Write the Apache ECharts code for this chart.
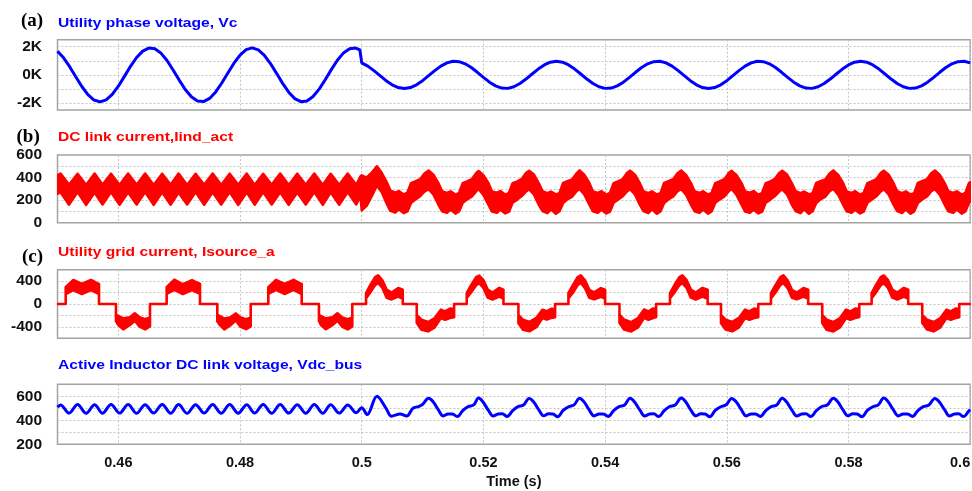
<!DOCTYPE html>
<html>
<head>
<meta charset="utf-8">
<script src="https://cdn.jsdelivr.net/npm/echarts@6/dist/echarts.min.js"></script>
<style>
  html, body { margin: 0; padding: 0; background: #fff; }
  #chart { width: 972px; height: 491px; }
</style>
</head>
<body>
<div id="chart"></div>
<script>
// ---- axis ticks ----
const timeTicks = [0.46, 0.48, 0.5, 0.52, 0.54, 0.56, 0.58, 0.6];
const vcGridValues = [-2000, -1000, 0, 1000, 2000];
const vcLabelValues = [-2000, 0, 2000];
const iindGridValues = [100, 200, 300, 400, 500];
const iindLabelValues = [0, 200, 400, 600];
const isrcGridValues = [-400, -200, 0, 200, 400];
const isrcLabelValues = [-400, 0, 400];
const vdcGridValues = [300, 400, 500, 600];
const vdcLabelValues = [200, 400, 600];

// ---- (a) utility phase voltage Vc, sampled every 1 ms ----
const vcStartBefore = 0.45;
const vcBefore = [1676, 1213, 581, -134, -830, -1409, -1790, -1920, -1780, -1390,
  -805, -107, 606, 1234, 1689, 1907, 1856, 1545, 1017, 347,
  -373, -1040, -1561, -1863, -1903, -1676, -1213, -581, 134, 830,
  1409, 1790, 1920, 1780, 1390, 805, 107, -606, -1234, -1689,
  -1907, -1856, -1545, -1017, -347, 373, 1040, 1561, 1863, 1903];
const vcStep = [[0.4997, 1771], [0.5, 1690]];
const vcStartAfter = 0.5;
const vcAfter = [850, 618, 300, -61, -413, -707, -902, -970, -902, -707,
  -413, -61, 300, 618, 850, 962, 940, 785, 520, 182,
  -182, -520, -785, -940, -962, -850, -618, -300, 61, 413,
  707, 902, 970, 902, 707, 413, 61, -300, -618, -850,
  -962, -940, -785, -520, -182, 182, 520, 785, 940, 962,
  850, 618, 300, -61, -413, -707, -902, -970, -902, -707,
  -413, -61, 300, 618, 850, 962, 940, 785, 520, 182,
  -182, -520, -785, -940, -962, -850, -618, -300, 61, 413,
  707, 902, 970, 902, 707, 413, 61, -300, -618, -850,
  -962, -940, -785, -520, -182, 182, 520, 785, 940, 962, 850];

// ---- (b) DC link current band: [time, lower edge, upper edge] ----
const iindBand = [
  [0.4500,255,420],
  [0.4505,270,435],[0.4519,160,335],[0.4533,272,433],[0.4547,158,333],
  [0.4561,268,436],[0.4574,162,336],[0.4588,271,434],[0.4602,159,334],
  [0.4616,269,435],[0.4630,161,335],[0.4644,272,436],[0.4658,158,333],
  [0.4672,270,434],[0.4686,160,336],[0.4699,268,435],[0.4713,162,334],
  [0.4727,271,433],[0.4741,159,335],[0.4755,270,436],[0.4769,161,333],
  [0.4783,272,434],[0.4797,158,336],[0.4811,269,435],[0.4824,160,334],
  [0.4838,271,433],[0.4852,162,335],[0.4866,270,436],[0.4880,159,333],
  [0.4894,268,434],[0.4908,161,336],[0.4922,272,435],[0.4936,158,334],
  [0.4949,270,433],[0.4963,160,335],[0.4977,271,436],[0.4991,162,333],
  [0.4998,240,410],[0.5000,110,420],[0.5008,150,400],[0.5016,230,440],
  [0.5025,330,500],[0.5033,270,440],[0.5041,170,360],[0.5047,105,285],[0.5055,90,265],[0.5061,120,280],
  [0.5069,85,250],[0.5075,100,265],[0.5081,175,350],[0.5088,205,365],[0.5096,235,385],[0.5103,275,435],
  [0.5110,298,462],[0.5118,249,424],[0.5126,161,351],[0.5132,102,278],[0.5140,87,263],[0.5146,117,278],
  [0.5154,81,249],[0.5160,100,263],[0.5166,176,351],[0.5173,205,366],[0.5181,234,386],[0.5188,278,439],
  [0.5192,300,458],[0.5200,247,420],[0.5208,163,353],[0.5214,100,276],[0.5222,89,265],[0.5228,115,280],
  [0.5236,83,247],[0.5242,98,265],[0.5248,178,349],[0.5255,203,364],[0.5263,236,388],[0.5270,276,441],
  [0.5275,296,460],[0.5283,251,426],[0.5291,159,349],[0.5297,104,280],[0.5305,85,261],[0.5311,119,276],
  [0.5319,79,251],[0.5325,102,261],[0.5331,174,353],[0.5338,207,368],[0.5346,232,384],[0.5353,280,437],
  [0.5358,299,463],[0.5366,248,423],[0.5374,162,352],[0.5380,101,277],[0.5388,88,264],[0.5394,116,279],
  [0.5402,82,248],[0.5408,99,264],[0.5414,177,350],[0.5421,204,365],[0.5429,235,387],[0.5436,277,440],
  [0.5441,297,461],[0.5449,250,425],[0.5457,160,350],[0.5463,103,279],[0.5471,86,262],[0.5477,118,277],
  [0.5485,80,250],[0.5491,101,262],[0.5497,175,352],[0.5504,206,367],[0.5512,233,385],[0.5519,279,438],
  [0.5525,298,462],[0.5533,249,424],[0.5541,161,351],[0.5547,102,278],[0.5555,87,263],[0.5561,117,278],
  [0.5569,81,249],[0.5575,100,263],[0.5581,176,351],[0.5588,205,366],[0.5596,234,386],[0.5603,278,439],
  [0.5608,300,459],[0.5616,247,421],[0.5624,163,353],[0.5630,100,276],[0.5638,89,265],[0.5644,115,280],
  [0.5652,83,247],[0.5658,98,265],[0.5664,178,349],[0.5671,203,364],[0.5679,236,388],[0.5686,276,441],
  [0.5691,296,460],[0.5699,251,426],[0.5707,159,349],[0.5713,104,280],[0.5721,85,261],[0.5727,119,276],
  [0.5735,79,251],[0.5741,102,261],[0.5747,174,353],[0.5754,207,368],[0.5762,232,384],[0.5769,280,437],
  [0.5775,299,463],[0.5783,248,423],[0.5791,162,352],[0.5797,101,277],[0.5805,88,264],[0.5811,116,279],
  [0.5819,82,248],[0.5825,99,264],[0.5831,177,350],[0.5838,204,365],[0.5846,235,387],[0.5853,277,440],
  [0.5858,297,461],[0.5866,250,425],[0.5874,160,350],[0.5880,103,279],[0.5888,86,262],[0.5894,118,277],
  [0.5902,80,250],[0.5908,101,262],[0.5914,175,352],[0.5921,206,367],[0.5929,233,385],[0.5936,279,438],
  [0.5942,298,462],[0.5950,249,424],[0.5958,161,351],[0.5964,102,278],[0.5972,87,263],[0.5978,117,278],
  [0.5986,81,249],[0.5992,100,263],[0.5998,176,351],[0.6000,190,358]
];

// ---- (c) utility grid current band: [time, lower edge, upper edge] ----
const isrcBand = [
  [0.4500,0,0],
  [0.45135,0,0],[0.45135,175,292],[0.4526,245,420],[0.4540,175,350],[0.4555,245,420],[0.4566,186,361],[0.45682,186,350],[0.45682,0,0],
  [0.45961,0,0],[0.45961,-300,-190],[0.4600,-367,-210],[0.4608,-443,-251],[0.4619,-367,-233],[0.4627,-292,-163],[0.4635,-397,-233],[0.4644,-443,-268],[0.4651,-397,-240],[0.4652,-390,-235],[0.4652,0,0],
  [0.46794,0,0],[0.46794,178,295],[0.4692,248,425],[0.4706,172,345],[0.4721,243,418],[0.4732,188,362],[0.47342,184,352],[0.47342,0,0],
  [0.47626,0,0],[0.47626,-302,-192],[0.4767,-370,-212],[0.4774,-445,-255],[0.4785,-365,-230],[0.4793,-290,-165],[0.4801,-400,-235],[0.4810,-440,-265],[0.4817,-395,-238],[0.48175,-388,-233],[0.48175,0,0],
  [0.48465,0,0],[0.48465,176,293],[0.4859,246,422],[0.4873,176,352],[0.4888,247,423],[0.4899,185,360],[0.49013,185,350],[0.49013,0,0],
  [0.49297,0,0],[0.49297,-298,-188],[0.4933,-368,-211],[0.4941,-442,-252],[0.4952,-368,-232],[0.4960,-293,-162],[0.4968,-398,-234],[0.4977,-444,-267],[0.4984,-396,-239],[0.49845,-390,-236],[0.49845,0,0],
  [0.50071,0,0],[0.50071,100,190],[0.5014,200,330],[0.5022,330,470],[0.5027,367,500],[0.5034,280,415],[0.5041,110,250],[0.5049,80,200],[0.5060,130,280],[0.50674,90,250],[0.50674,0,0],
  [0.50904,0,0],[0.50904,-330,-190],[0.5098,-449,-274],[0.5109,-478,-315],[0.5120,-408,-245],[0.5130,-245,-99],[0.5137,-275,-130],[0.5145,-245,-80],[0.51518,-230,-90],[0.51518,0,0],
  [0.51726,0,0],[0.51726,105,195],[0.5180,205,335],[0.5188,328,468],[0.5193,365,498],[0.5200,282,418],[0.5207,112,252],[0.5215,78,198],[0.5226,132,282],[0.52329,92,252],[0.52329,0,0],
  [0.52575,0,0],[0.52575,-332,-192],[0.5265,-450,-276],[0.5276,-476,-313],[0.5287,-405,-243],[0.5297,-247,-100],[0.5304,-273,-128],[0.5312,-243,-82],[0.53178,-232,-92],[0.53178,0,0],
  [0.53397,0,0],[0.53397,98,188],[0.5347,198,328],[0.5355,332,472],[0.5360,368,502],[0.5367,278,413],[0.5374,108,248],[0.5382,82,202],[0.5393,128,278],[0.5400,88,248],[0.5400,0,0],
  [0.54236,0,0],[0.54236,-328,-188],[0.5431,-447,-272],[0.5443,-480,-317],[0.5454,-410,-247],[0.5464,-243,-97],[0.5471,-277,-132],[0.5479,-247,-78],[0.54838,-228,-88],[0.54838,0,0],
  [0.55066,0,0],[0.55066,102,192],[0.5514,202,332],[0.5522,330,470],[0.5527,366,500],[0.5534,281,416],[0.5541,111,251],[0.5549,79,199],[0.5560,131,281],[0.55685,91,251],[0.55685,0,0],
  [0.55904,0,0],[0.55904,-331,-191],[0.5598,-448,-273],[0.5609,-477,-314],[0.5620,-407,-244],[0.5630,-246,-98],[0.5637,-274,-129],[0.5645,-244,-81],[0.56517,-231,-91],[0.56517,0,0],
  [0.56725,0,0],[0.56725,99,189],[0.5680,201,331],[0.5688,331,471],[0.5693,368,501],[0.5700,279,414],[0.5707,109,249],[0.5715,81,201],[0.5726,129,279],[0.57338,89,249],[0.57338,0,0],
  [0.57568,0,0],[0.57568,-329,-189],[0.5764,-450,-275],[0.5775,-479,-316],[0.5786,-409,-246],[0.5796,-244,-98],[0.5803,-276,-131],[0.5811,-246,-79],[0.58177,-229,-89],[0.58177,0,0],
  [0.5838,0,0],[0.5838,101,191],[0.5845,199,329],[0.5853,329,469],[0.5858,366,499],[0.5865,281,416],[0.5872,111,251],[0.5880,79,199],[0.5891,131,281],[0.58982,91,251],[0.58982,0,0],
  [0.59212,0,0],[0.59212,-330,-190],[0.5929,-448,-274],[0.5940,-478,-315],[0.5951,-408,-245],[0.5961,-245,-99],[0.5968,-275,-130],[0.5976,-245,-80],[0.5982,-230,-90],[0.5982,0,0],
  [0.6000,0,0]
];

// ---- (d) active inductor DC link voltage: [time, value] ----
const vdcPoints = [
  [0.4500,510],[0.4505,528],[0.4519,460],[0.4533,532],[0.4547,458],[0.4561,530],[0.4574,459],
  [0.4588,532],[0.4602,460],[0.4616,531],[0.4630,458],[0.4644,530],[0.4658,460],[0.4672,532],
  [0.4686,459],[0.4699,531],[0.4713,458],[0.4727,530],[0.4741,460],[0.4755,532],[0.4769,458],
  [0.4783,531],[0.4797,459],[0.4811,530],[0.4824,460],[0.4838,532],[0.4852,458],[0.4866,531],
  [0.4880,460],[0.4894,530],[0.4908,458],[0.4922,532],[0.4936,459],[0.4949,530],[0.4963,460],
  [0.4977,528],[0.4991,462],[0.5000,505],[0.5009,448],[0.5025,600],[0.5040,500],[0.5049,434],
  [0.5063,453],[0.5074,436],[0.5084,500],[0.5093,514],[0.5099,528],
  [0.5110,583],[0.5117,556],[0.5126,486],[0.5134,436],[0.5142,453],[0.5149,452],[0.5157,431],[0.5166,481],[0.5175,514],[0.5184,528],
  [0.5192,585],[0.5199,555],[0.5208,484],[0.5216,435],[0.5224,452],[0.5231,454],[0.5239,432],[0.5248,480],[0.5257,515],[0.5266,527],
  [0.5275,582],[0.5282,557],[0.5291,487],[0.5299,437],[0.5307,454],[0.5314,452],[0.5322,430],[0.5331,482],[0.5340,513],[0.5349,529],
  [0.5358,584],[0.5365,556],[0.5374,485],[0.5382,436],[0.5390,453],[0.5397,453],[0.5405,432],[0.5414,481],[0.5423,514],[0.5432,528],
  [0.5441,583],[0.5448,555],[0.5457,486],[0.5465,435],[0.5473,452],[0.5480,454],[0.5488,431],[0.5497,480],[0.5506,515],[0.5515,527],
  [0.5525,585],[0.5532,557],[0.5541,484],[0.5549,437],[0.5557,454],[0.5564,452],[0.5572,430],[0.5581,482],[0.5590,513],[0.5599,529],
  [0.5608,582],[0.5615,556],[0.5624,487],[0.5632,436],[0.5640,453],[0.5647,453],[0.5655,432],[0.5664,481],[0.5673,514],[0.5682,528],
  [0.5691,584],[0.5698,555],[0.5707,485],[0.5715,435],[0.5723,452],[0.5730,454],[0.5738,431],[0.5747,480],[0.5756,515],[0.5765,527],
  [0.5775,583],[0.5782,557],[0.5791,486],[0.5799,437],[0.5807,454],[0.5814,452],[0.5822,430],[0.5831,482],[0.5840,513],[0.5849,529],
  [0.5858,585],[0.5865,556],[0.5874,484],[0.5882,436],[0.5890,453],[0.5897,453],[0.5905,432],[0.5914,481],[0.5923,514],[0.5932,528],
  [0.5942,582],[0.5949,555],[0.5958,487],[0.5966,435],[0.5974,452],[0.5981,454],[0.5989,431],[0.5998,480],[0.6000,490]
];

// ---- styling ----
const BLUE = '#0000ff';
const RED = '#ff0000';
const SANS = '"Liberation Sans", Arial, sans-serif';
const SERIF = '"Liberation Serif", "Times New Roman", serif';
const gridLineStyle = { color: '#c4c4c4', width: 1, type: [2, 2] };
const xLabelStyle = { fontFamily: SANS, fontWeight: 'bold', fontSize: 14.5, color: '#111' };
const yLabelStyle = { fontFamily: SANS, fontWeight: 'bold', fontSize: 15.5, color: '#111' };

// Vc series: 1 ms samples before and after the 0.5 s step
const vcPoints = []
  .concat(vcBefore.map((v, i) => [vcStartBefore + i * 0.001, v]))
  .concat(vcStep)
  .concat(vcAfter.map((v, i) => [vcStartAfter + i * 0.001, v]));

const panelLayout = [
  { top: 39.7, height: 70.3 },
  { top: 155, height: 67.7 },
  { top: 269.7, height: 68.6 },
  { top: 384.3, height: 60 }
];

const grids = panelLayout.map(p => ({
  left: 57.5, right: 1.8, top: p.top, height: p.height,
  outerBoundsMode: 'none', containLabel: false,
  show: true, borderColor: '#a4a4a4', borderWidth: 1.5, backgroundColor: 'transparent'
}));

const xAxes = panelLayout.map((p, i) => {
  const last = i === panelLayout.length - 1;
  return {
    type: 'value', gridIndex: i, min: 0.45, max: 0.6,
    axisLine: { show: false },
    axisTick: { show: false, customValues: timeTicks },
    splitLine: { show: true, lineStyle: gridLineStyle },
    axisLabel: last ? Object.assign({
      show: true, customValues: timeTicks, margin: 11, alignMaxLabel: 'right',
      formatter: v => String(Math.round(v * 100) / 100)
    }, xLabelStyle) : { show: false },
    name: last ? 'Time (s)' : '',
    nameLocation: 'middle', nameGap: 30,
    nameTextStyle: { fontFamily: SANS, fontWeight: 'bold', fontSize: 14.5, color: '#111' }
  };
});

function yAxis(i, min, max, gridValues, labelValues, fmt) {
  return {
    type: 'value', gridIndex: i, min: min, max: max,
    axisLine: { show: false },
    axisTick: { show: false, customValues: gridValues },
    splitLine: { show: true, lineStyle: gridLineStyle },
    axisLabel: Object.assign({ customValues: labelValues, margin: 15.5, formatter: fmt }, yLabelStyle)
  };
}

const yAxes = [
  yAxis(0, -2500, 2500, vcGridValues, vcLabelValues, v => (v / 1000) + 'K'),
  yAxis(1, 0, 600, iindGridValues, iindLabelValues, v => String(v)),
  yAxis(2, -600, 600, isrcGridValues, isrcLabelValues, v => String(v)),
  yAxis(3, 200, 700, vdcGridValues, vdcLabelValues, v => String(v))
];

// filled envelope between the lower and upper edge of a switching-ripple waveform
function bandSeries(rows, axisIndex, color) {
  return {
    type: 'custom', xAxisIndex: axisIndex, yAxisIndex: axisIndex,
    clip: true, silent: true,
    data: rows,
    encode: { x: 0, y: [1, 2] },
    renderItem: function (params, api) {
      if (params.dataIndex !== 0) return null;
      const upper = rows.map(r => api.coord([r[0], r[2]]));
      const lower = rows.map(r => api.coord([r[0], r[1]])).reverse();
      return {
        type: 'polygon',
        shape: { points: upper.concat(lower) },
        style: { fill: color, stroke: color, lineWidth: 2.6, lineJoin: 'round' }
      };
    }
  };
}

// panel headings are set in a slightly wide bold sans
function titleText(x, y, text, color) {
  return { type: 'text', x: x, y: y, scaleX: 1.2, silent: true,
    style: { text: text, fill: color, font: 'bold 13px ' + SANS, verticalAlign: 'middle', align: 'left' } };
}
function tagText(x, y, text) {
  return { type: 'text', x: x, y: y, silent: true,
    style: { text: text, fill: '#000', font: 'bold 19px ' + SERIF, verticalAlign: 'middle', align: 'left' } };
}

const option = {
  backgroundColor: '#fff',
  animation: false,
  grid: grids,
  xAxis: xAxes,
  yAxis: yAxes,
  graphic: [
    tagText(21, 21, '(a)'), titleText(58, 23, 'Utility phase voltage, Vc', BLUE),
    tagText(16.5, 137, '(b)'), titleText(58, 137, 'DC link current,Iind_act', RED),
    tagText(22, 257.5, '(c)'), titleText(58, 252, 'Utility grid current, Isource_a', RED),
    titleText(58, 365.5, 'Active Inductor DC link voltage, Vdc_bus', BLUE)
  ],
  series: [
    { type: 'line', xAxisIndex: 0, yAxisIndex: 0, data: vcPoints, showSymbol: false,
      lineStyle: { color: BLUE, width: 3 }, silent: true },
    bandSeries(iindBand, 1, RED),
    bandSeries(isrcBand, 2, RED),
    { type: 'line', xAxisIndex: 3, yAxisIndex: 3, data: vdcPoints, showSymbol: false, smooth: 0.35,
      lineStyle: { color: BLUE, width: 3 }, silent: true }
  ]
};

const chart = echarts.init(document.getElementById('chart'), null, { renderer: 'canvas' });
chart.setOption(option);
</script>
</body>
</html>
